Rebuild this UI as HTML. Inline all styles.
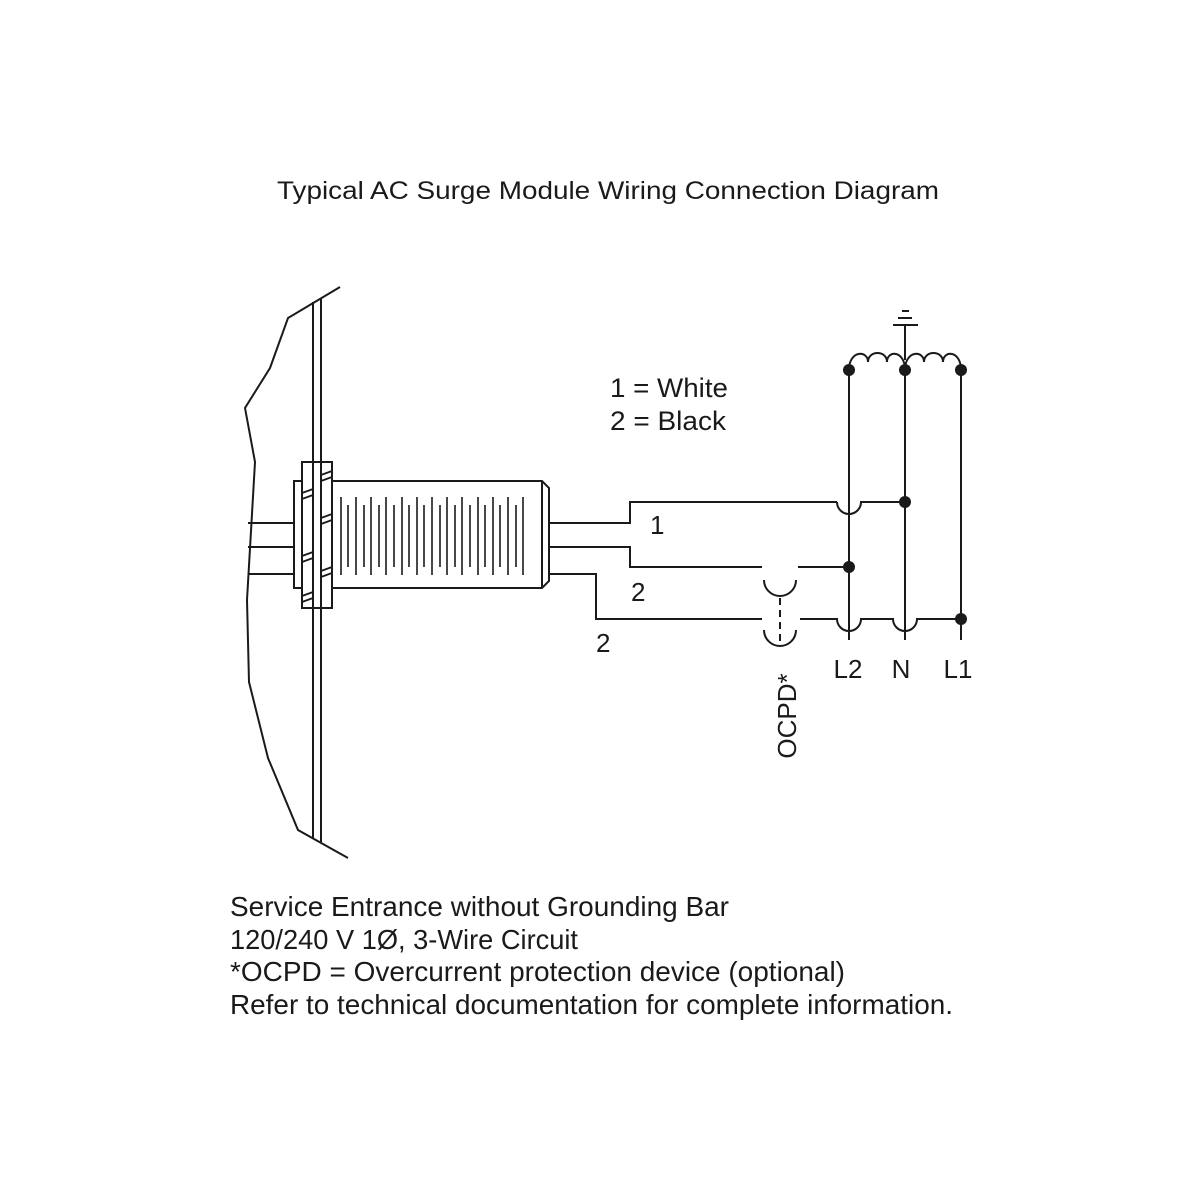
<!DOCTYPE html>
<html><head><style>
html,body{margin:0;padding:0;background:#fff;}
svg{display:block;}
text{font-family:"Liberation Sans",Arial,sans-serif;fill:#1a1a1a;}
</style></head><body>
<svg width="1200" height="1200" viewBox="0 0 1200 1200" xmlns="http://www.w3.org/2000/svg">
<rect width="1200" height="1200" fill="#fff"/>
<text x="277" y="199" font-size="25" textLength="662" lengthAdjust="spacingAndGlyphs">Typical AC Surge Module Wiring Connection Diagram</text>
<g fill="none" stroke="#1a1a1a" stroke-width="2">
<polyline points="340,287 288,318 270,368 245,408 255,462 247,600 249,682 268,758 298,830 348,858"/>
<line x1="313" y1="302" x2="313" y2="838"/>
<line x1="321" y1="298" x2="321" y2="842"/>
<line x1="248" y1="523" x2="294" y2="523"/>
<line x1="248" y1="547" x2="294" y2="547"/>
<line x1="248" y1="574" x2="294" y2="574"/>
<rect x="294" y="481" width="8" height="107" fill="#fff"/>
<rect x="302" y="462" width="30" height="146" fill="#fff"/>
<line x1="313" y1="462" x2="313" y2="608"/>
<line x1="321" y1="462" x2="321" y2="608"/>
<g stroke-width="1.8">
<line x1="302" y1="493" x2="313" y2="489"/><line x1="302" y1="499" x2="313" y2="495"/>
<line x1="321" y1="475" x2="332" y2="471"/><line x1="321" y1="481" x2="332" y2="477"/>
<line x1="302" y1="556" x2="313" y2="552"/><line x1="302" y1="562" x2="313" y2="558"/>
<line x1="321" y1="518" x2="332" y2="514"/><line x1="321" y1="524" x2="332" y2="520"/>
<line x1="302" y1="602" x2="313" y2="598"/><line x1="302" y1="596" x2="313" y2="592"/>
<line x1="321" y1="571" x2="332" y2="567"/><line x1="321" y1="577" x2="332" y2="573"/>
</g>
<polygon points="332,481 542,481 549,488 549,581 542,588 332,588" fill="#fff"/>
<line x1="542" y1="481" x2="542" y2="588"/>
<g stroke-width="1.6">
<line x1="341" y1="497" x2="341" y2="575"/><line x1="348" y1="505" x2="348" y2="567"/>
<line x1="356" y1="497" x2="356" y2="575"/><line x1="364" y1="505" x2="364" y2="567"/>
<line x1="371" y1="497" x2="371" y2="575"/><line x1="379" y1="505" x2="379" y2="567"/>
<line x1="386" y1="497" x2="386" y2="575"/><line x1="394" y1="505" x2="394" y2="567"/>
<line x1="402" y1="497" x2="402" y2="575"/><line x1="409" y1="505" x2="409" y2="567"/>
<line x1="417" y1="497" x2="417" y2="575"/><line x1="424" y1="505" x2="424" y2="567"/>
<line x1="432" y1="497" x2="432" y2="575"/><line x1="440" y1="505" x2="440" y2="567"/>
<line x1="447" y1="497" x2="447" y2="575"/><line x1="455" y1="505" x2="455" y2="567"/>
<line x1="462" y1="497" x2="462" y2="575"/><line x1="470" y1="505" x2="470" y2="567"/>
<line x1="478" y1="497" x2="478" y2="575"/><line x1="485" y1="505" x2="485" y2="567"/>
<line x1="493" y1="497" x2="493" y2="575"/><line x1="500" y1="505" x2="500" y2="567"/>
<line x1="508" y1="497" x2="508" y2="575"/><line x1="516" y1="505" x2="516" y2="567"/>
<line x1="523" y1="497" x2="523" y2="575"/>
</g>
<polyline points="549,523 630,523 630,502 837,502"/>
<path d="M837,502 A12,12 0 0 0 861,502 L905,502"/>
<polyline points="549,547 630,547 630,567 762,567"/>
<line x1="798" y1="567" x2="849" y2="567"/>
<polyline points="549,574 596,574 596,619 762,619"/>
<path d="M800,619 L837,619 A12,12 0 0 0 861,619 L893,619 A12,12 0 0 0 917,619 L961,619"/>
<path d="M764,580 A16,16 0 0 0 796,580"/>
<path d="M764,630 A16,16 0 0 0 796,630"/>
<line x1="780" y1="598" x2="780" y2="642" stroke-dasharray="7,5"/>
<line x1="849" y1="370" x2="849" y2="640"/>
<line x1="905" y1="370" x2="905" y2="640"/>
<line x1="961" y1="370" x2="961" y2="640"/>
<path d="M849,370 C849,350 868,350 868,362 C868,350 887,350 887,362 C887,350 905,350 905,370 C905,350 924,350 924,362 C924,350 943,350 943,362 C943,350 961,350 961,370"/>
<line x1="905" y1="326" x2="905" y2="360"/>
<line x1="893" y1="325" x2="918" y2="325"/>
<line x1="898" y1="318" x2="912" y2="318"/>
<line x1="902" y1="311" x2="909" y2="311"/>
</g>
<g fill="#1a1a1a">
<circle cx="849" cy="370" r="6"/><circle cx="905" cy="370" r="6"/><circle cx="961" cy="370" r="6"/>
<circle cx="905" cy="502" r="6"/><circle cx="849" cy="567" r="6"/><circle cx="961" cy="619" r="6"/>
</g>
<text x="610" y="397" font-size="27" textLength="118" lengthAdjust="spacingAndGlyphs">1 = White</text>
<text x="610" y="430" font-size="27" textLength="116" lengthAdjust="spacingAndGlyphs">2 = Black</text>
<text x="650" y="534" font-size="26">1</text>
<text x="631" y="601" font-size="26">2</text>
<text x="596" y="652" font-size="26">2</text>
<text x="848" y="678" font-size="26" text-anchor="middle">L2</text>
<text x="901" y="678" font-size="26" text-anchor="middle">N</text>
<text x="958" y="678" font-size="26" text-anchor="middle">L1</text>
<text transform="translate(796,716) rotate(-90)" font-size="26" text-anchor="middle">OCPD*</text>
<g font-size="28">
<text x="230" y="916" textLength="499" lengthAdjust="spacingAndGlyphs">Service Entrance without Grounding Bar</text>
<text x="230" y="949" textLength="348" lengthAdjust="spacingAndGlyphs">120/240 V 1Ø, 3-Wire Circuit</text>
<text x="230" y="981" textLength="615" lengthAdjust="spacingAndGlyphs">*OCPD = Overcurrent protection device (optional)</text>
<text x="230" y="1014" textLength="723" lengthAdjust="spacingAndGlyphs">Refer to technical documentation for complete information.</text>
</g>
</svg>
</body></html>
